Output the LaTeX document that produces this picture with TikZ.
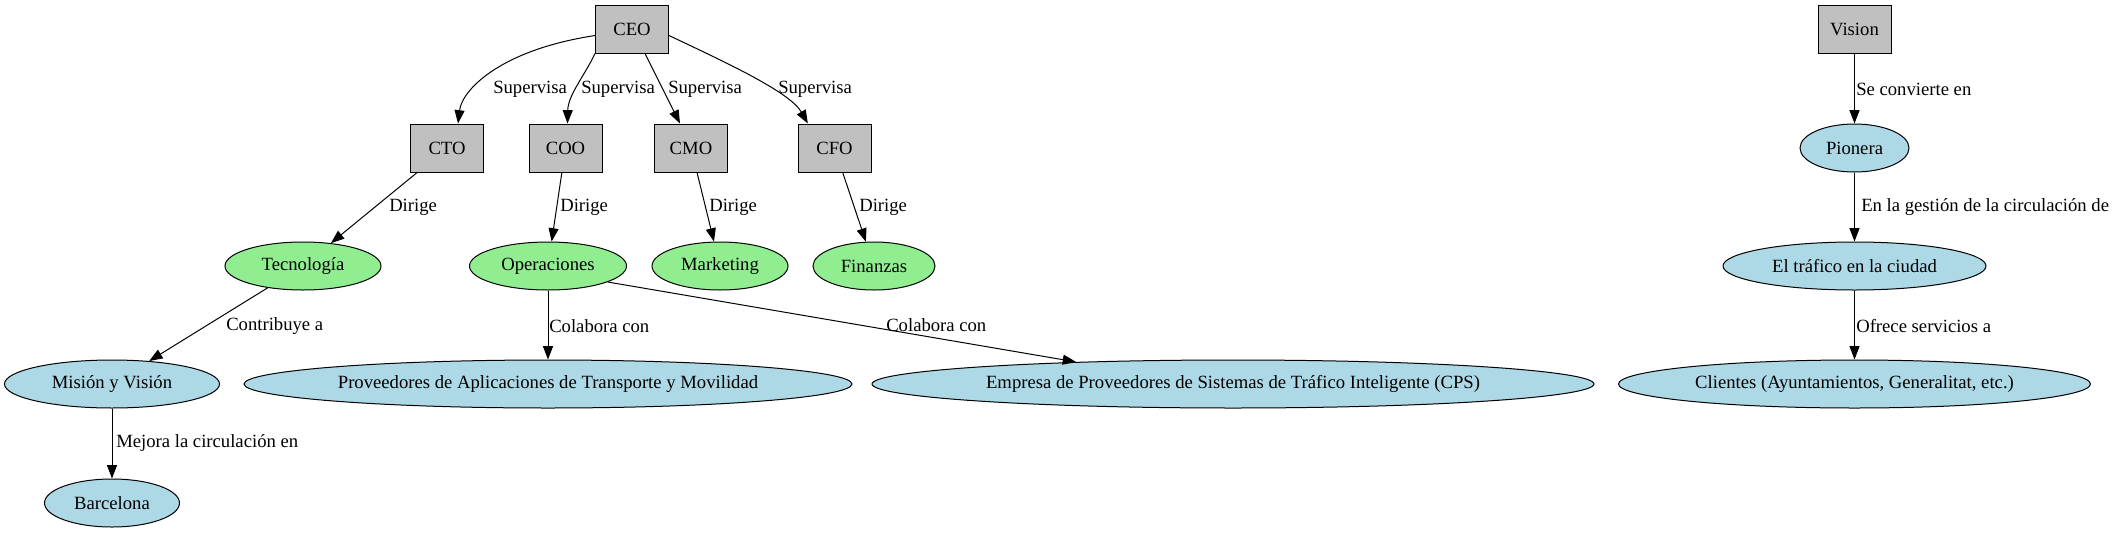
\documentclass[tikz,border=0pt]{standalone}
\usepackage{fontspec}
\setmainfont{Liberation Serif}
\usetikzlibrary{shapes.geometric,arrows.meta}
\definecolor{gvgray}{HTML}{C0C0C0}
\definecolor{gvgreen}{HTML}{90EE90}
\definecolor{gvblue}{HTML}{ADD8E6}
\begin{document}
\begin{tikzpicture}[x=0.75pt,y=-0.75pt,
  every node/.style={font=\fontsize{14}{16}\selectfont},
  box/.style={draw=black, fill=gvgray, rectangle, minimum width=54.75pt, minimum height=36pt, inner sep=0pt, line width=0.75pt},
  gell/.style={draw=black, fill=gvgreen, ellipse, minimum height=36pt, inner sep=0pt, line width=0.75pt},
  bell/.style={draw=black, fill=gvblue, ellipse, minimum height=36pt, inner sep=0pt, line width=0.75pt},
  edge/.style={draw=black, line width=0.75pt, -{Triangle[length=10pt,width=7.5pt]}},
  lbl/.style={anchor=west, inner sep=0pt}
]
\useasboundingbox (0,0) rectangle (2120,532);
% nodes
\node[box] (ceo) at (632,29) {CEO};
\node[box] (cto) at (447,148) {CTO};
\node[box] (coo) at (565.5,148) {COO};
\node[box] (cmo) at (691,148) {CMO};
\node[box] (cfo) at (834.5,148) {CFO};
\node[gell, minimum width=117pt] (tec) at (303,266) {Tecnología};
\node[gell, minimum width=117.75pt] (ope) at (548,266) {Operaciones};
\node[gell, minimum width=102pt] (mkt) at (720,266) {Marketing};
\node[gell, minimum width=91.5pt] (fin) at (874,266) {Finanzas};
\node[bell, minimum width=161.25pt] (mis) at (112,384) {Misión y Visión};
\node[bell, minimum width=456pt] (prov) at (548,384) {Proveedores de Aplicaciones de Transporte y Movilidad};
\node[bell, minimum width=541.5pt] (emp) at (1233,384) {Empresa de Proveedores de Sistemas de Tráfico Inteligente (CPS)};
\node[bell, minimum width=101.25pt] (bcn) at (112,503) {Barcelona};
\node[box] (vis) at (1854.5,29) {Vision};
\node[bell, minimum width=81.75pt] (pio) at (1854.5,148) {Pionera};
\node[bell, minimum width=197.25pt] (traf) at (1854.5,266) {El tráfico en la ciudad};
\node[bell, minimum width=354pt] (cli) at (1854.5,384) {Clientes (Ayuntamientos, Generalitat, etc.)};
% edges
\draw[edge] (ceo.190) .. controls (500,50) and (462,90) .. ([xshift=8.25pt]cto.north);
\draw[edge] (ceo.south west) .. controls (585,75) and (568,95) .. ([xshift=1.5pt]coo.north);
\draw[edge] ([xshift=9.75pt]ceo.south) -- ([xshift=-8.25pt]cmo.north);
\draw[edge] (ceo.-10) .. controls (725,62) and (790,92) .. ([xshift=-20pt]cfo.north);
\draw[edge] (cto) -- (tec);
\draw[edge] (coo) -- (ope);
\draw[edge] (cmo) -- (mkt);
\draw[edge] (cfo) -- (fin);
\draw[edge] (tec) -- (mis);
\draw[edge] (ope) -- (prov);
\draw[edge] (ope.-15) -- (emp.172.6);
\draw[edge] (mis) -- (bcn);
\draw[edge] (vis) -- (pio);
\draw[edge] (pio) -- (traf);
\draw[edge] (traf) -- (cli);
% edge labels
\node[lbl] (l1) at (493,89) {Supervisa};
\node[lbl] (l2) at (581,89) {Supervisa};
\node[lbl] (l3) at (668,89) {Supervisa};
\node[lbl] (l4) at (778,89) {Supervisa};
\node[lbl] (l5) at (389,207) {Dirige};
\node[lbl] (l6) at (560,207) {Dirige};
\node[lbl] (l7) at (709,207) {Dirige};
\node[lbl] (l8) at (859,207) {Dirige};
\node[lbl] (l9) at (226,326) {Contribuye a};
\node[lbl] (l10) at (549,326) {Colabora con};
\node[lbl] (l11) at (886,325) {Colabora con};
\node[lbl] (l12) at (116,443) {Mejora la circulación en};
\node[lbl] (l13) at (1856,89) {Se convierte en};
\node[lbl] (l14) at (1861,207) {En la gestión de la circulación de};
\node[lbl] (l15) at (1856,326) {Ofrece servicios a};
\end{tikzpicture}
\end{document}
